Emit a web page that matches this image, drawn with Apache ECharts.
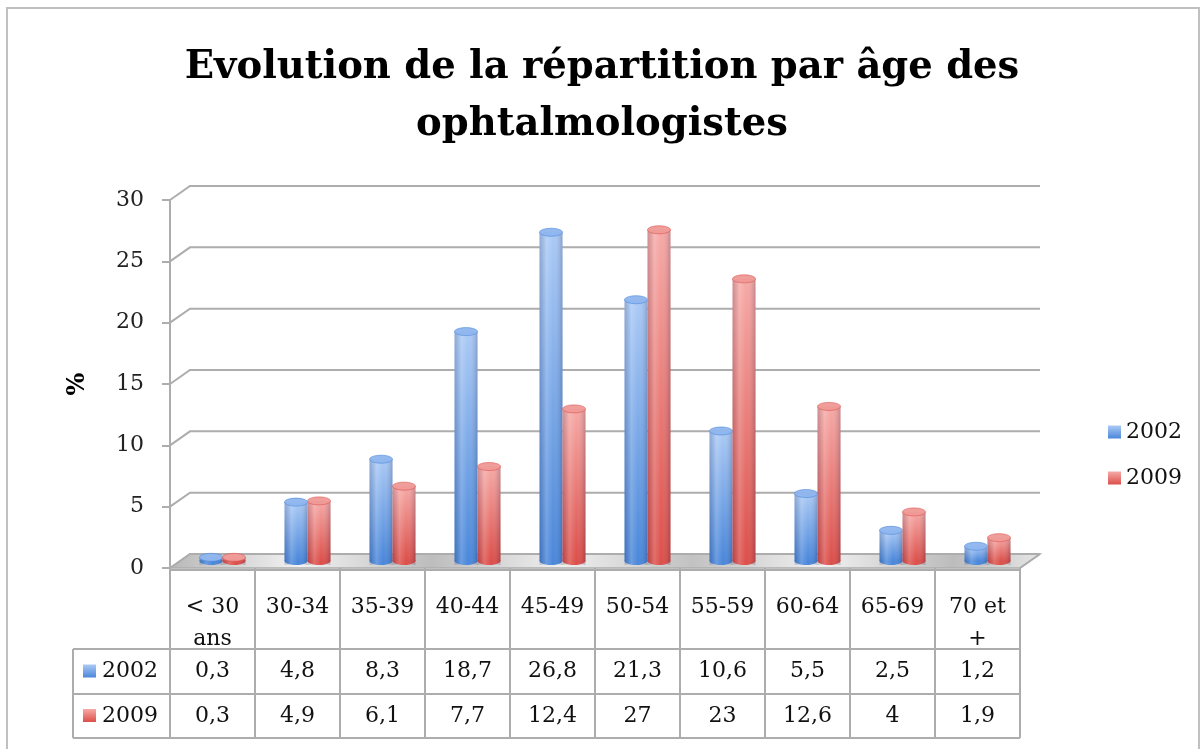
<!DOCTYPE html>
<html>
<head>
<meta charset="utf-8">
<script src="https://cdn.jsdelivr.net/npm/echarts@6/dist/echarts.min.js"></script>
<style>
  html, body { margin: 0; padding: 0; background: #fff; }
  #main { width: 1204px; height: 749px; }
</style>
</head>
<body>
<div id="main"></div>
<script>
// données du graphique
const categories = ['< 30\nans', '30-34', '35-39', '40-44', '45-49', '50-54', '55-59', '60-64', '65-69', '70 et\n+'];
const years = ['2002', '2009'];
const values2002 = [0.3, 4.8, 8.3, 18.7, 26.8, 21.3, 10.6, 5.5, 2.5, 1.2];
const values2009 = [0.3, 4.9, 6.1, 7.7, 12.4, 27, 23, 12.6, 4, 1.9];
const yTicks = [0, 5, 10, 15, 20, 25, 30];

const FONT = 'DejaVu Serif';
const LINE = '#adadad';
// profondeur 3D (décalage du mur du fond)
const DX = 20, DY = -14;
const BAR_W = 23;

// [haut, bas, dessus]
const blueCol = ['#abcaf5', '#4a87da', '#8eb5ee'];
const redCol = ['#f6aaa7', '#dc4f4a', '#ef9996'];

function vGrad(c) {
  return new echarts.graphic.LinearGradient(0, 0, 0, 1, [
    { offset: 0, color: c[0] },
    { offset: 1, color: c[1] }
  ]);
}
function shade() {
  return new echarts.graphic.LinearGradient(0, 0, 1, 0, [
    { offset: 0, color: 'rgba(0,0,40,0.16)' },
    { offset: 0.3, color: 'rgba(255,255,255,0.18)' },
    { offset: 0.6, color: 'rgba(255,255,255,0)' },
    { offset: 1, color: 'rgba(0,0,40,0.2)' }
  ]);
}

// cylindre pour une barre
function cylinder(side, col) {
  return function (params, api) {
    const i = api.value(0);
    const v = api.value(1);
    const pTop = api.coord([i, v]);
    const pBase = api.coord([i, 0]);
    const cx = pTop[0] + DX / 2 + side * BAR_W / 2;
    const yt = pTop[1] + DY / 2;
    const yb = pBase[1] + DY / 2;
    const rx = BAR_W / 2, ry = 4;
    return {
      type: 'group',
      children: [
        { type: 'ellipse', shape: { cx: cx, cy: yb, rx: rx, ry: ry }, style: { fill: col[1] } },
        { type: 'rect', shape: { x: cx - rx, y: yt, width: BAR_W, height: yb - yt }, style: { fill: vGrad(col) } },
        { type: 'rect', shape: { x: cx - rx, y: yt, width: BAR_W, height: yb - yt + ry }, style: { fill: shade() } },
        { type: 'ellipse', shape: { cx: cx, cy: yt, rx: rx, ry: ry }, style: { fill: col[2], stroke: col[1], lineWidth: 0.6, opacity: 0.95 } }
      ]
    };
  };
}

const chart = echarts.init(document.getElementById('main'));

const option = {
  animation: false,
  title: {
    text: 'Evolution de la répartition par âge des\nophtalmologistes',
    left: 'center',
    top: 34,
    padding: [5, 5, 5, 19],
    textStyle: { fontFamily: FONT, fontWeight: 'bold', fontSize: 38.5, lineHeight: 57, color: '#000' }
  },
  legend: {
    data: years,
    orient: 'vertical',
    left: 1103,
    top: 416,
    itemWidth: 13,
    itemHeight: 13,
    itemGap: 24,
    icon: 'rect',
    textStyle: { fontFamily: FONT, fontSize: 22, color: '#111' }
  },
  graphic: [
    { type: 'rect', shape: { x: 7, y: 8, width: 1192, height: 800 }, style: { fill: 'none', stroke: '#c0c0c0', lineWidth: 2 }, silent: true }
  ],
  grid: { left: 170, top: 200, width: 850, height: 368 },
  xAxis: {
    type: 'category',
    data: categories,
    boundaryGap: true,
    axisLine: { show: false },
    axisTick: { show: false },
    axisLabel: { show: false }
  },
  yAxis: {
    type: 'value',
    min: 0,
    max: 30,
    interval: 5,
    name: '%',
    nameLocation: 'middle',
    nameGap: 80,
    nameRotate: 90,
    nameTextStyle: { fontFamily: FONT, fontWeight: 'bold', fontSize: 24, color: '#000' },
    axisLine: { show: true, lineStyle: { color: LINE, width: 2 } },
    axisTick: { show: true, inside: false, length: 8, lineStyle: { color: LINE, width: 2 } },
    axisLabel: { fontFamily: FONT, fontSize: 22, color: '#222', margin: 26, padding: [6, 0, 0, 0] },
    splitLine: { show: false }
  },
  series: [
    {
      // sol
      type: 'custom',
      name: 'sol',
      silent: true,
      clip: false,
      z: 1,
      data: [[0, 0]],
      renderItem: function (params, api) {
        const cs = params.coordSys;
        const y = api.coord([0, 0])[1];
        return {
          type: 'polygon',
          shape: { points: [[cs.x, y], [cs.x + cs.width, y], [cs.x + cs.width + DX, y + DY], [cs.x + DX, y + DY]] },
          style: {
            fill: new echarts.graphic.LinearGradient(0, 0, 1, 0.4, [
              { offset: 0, color: '#b8b8b8' },
              { offset: 0.15, color: '#f2f2f2' },
              { offset: 0.3, color: '#bdbdbd' },
              { offset: 0.45, color: '#efefef' },
              { offset: 0.6, color: '#c2c2c2' },
              { offset: 0.75, color: '#f0f0f0' },
              { offset: 0.9, color: '#bcbcbc' },
              { offset: 1, color: '#e6e6e6' }
            ]),
            stroke: LINE,
            lineWidth: 1.5
          }
        };
      }
    },
    {
      // lignes du quadrillage (mur du fond)
      type: 'custom',
      name: 'quadrillage',
      silent: true,
      clip: false,
      z: 2,
      data: yTicks.map(function (v) { return [0, v]; }),
      renderItem: function (params, api) {
        const cs = params.coordSys;
        const y = api.coord([0, api.value(1)])[1];
        return {
          type: 'polyline',
          shape: { points: [[cs.x, y], [cs.x + DX, y + DY], [cs.x + cs.width + DX, y + DY]] },
          style: { fill: 'none', stroke: LINE, lineWidth: 2 }
        };
      }
    },
    {
      type: 'custom',
      name: '2002',
      clip: false,
      z: 3,
      itemStyle: { color: vGrad(blueCol) },
      data: values2002.map(function (v, i) { return [i, v]; }),
      renderItem: cylinder(-1, blueCol)
    },
    {
      type: 'custom',
      name: '2009',
      clip: false,
      z: 4,
      itemStyle: { color: vGrad(redCol) },
      data: values2009.map(function (v, i) { return [i, v]; }),
      renderItem: cylinder(1, redCol)
    },
    {
      // tableau de données
      type: 'custom',
      name: 'tableau',
      silent: true,
      clip: false,
      z: 5,
      data: categories.map(function (c, i) { return [i, 0]; }),
      renderItem: function (params, api) {
        const i = api.value(0);
        const p = api.coord([i, 0]);
        const w = api.size([1, 0])[0];
        const xl = p[0] - w / 2, xr = p[0] + w / 2;
        const y0 = p[1] + 2, r1 = y0 + 79, r2 = y0 + 124, r3 = y0 + 168;
        const ls = { stroke: LINE, lineWidth: 2 };
        const ts = { fontFamily: FONT, fontSize: 22, fill: '#111', align: 'center', verticalAlign: 'middle' };
        const ch = [
          { type: 'line', shape: { x1: xl, y1: y0, x2: xr, y2: y0 }, style: ls },
          { type: 'line', shape: { x1: xl, y1: r1, x2: xr, y2: r1 }, style: ls },
          { type: 'line', shape: { x1: xl, y1: r2, x2: xr, y2: r2 }, style: ls },
          { type: 'line', shape: { x1: xl, y1: r3, x2: xr, y2: r3 }, style: ls },
          { type: 'line', shape: { x1: xl, y1: y0 - 2, x2: xl, y2: r3 }, style: ls },
          { type: 'text', style: Object.assign({}, ts, { text: categories[i], x: p[0], y: y0 + 21, verticalAlign: 'top', lineHeight: 32 }) },
          { type: 'text', style: Object.assign({}, ts, { text: String(values2002[i]).replace('.', ','), x: p[0], y: (r1 + r2) / 2 }) },
          { type: 'text', style: Object.assign({}, ts, { text: String(values2009[i]).replace('.', ','), x: p[0], y: (r2 + r3) / 2 }) }
        ];
        if (i === categories.length - 1) {
          ch.push({ type: 'line', shape: { x1: xr, y1: y0 - 2, x2: xr, y2: r3 }, style: ls });
          ch.push({ type: 'line', shape: { x1: xr, y1: y0 - 2, x2: xr + DX, y2: y0 - 2 + DY }, style: ls });
        }
        if (i === 0) {
          const xk = xl - 97;
          ch.push(
            { type: 'line', shape: { x1: xk, y1: r1, x2: xl, y2: r1 }, style: ls },
            { type: 'line', shape: { x1: xk, y1: r2, x2: xl, y2: r2 }, style: ls },
            { type: 'line', shape: { x1: xk, y1: r3, x2: xl, y2: r3 }, style: ls },
            { type: 'line', shape: { x1: xk, y1: r1, x2: xk, y2: r3 }, style: ls },
            { type: 'rect', shape: { x: xk + 10, y: (r1 + r2) / 2 - 7, width: 13, height: 13 }, style: { fill: vGrad(blueCol) } },
            { type: 'rect', shape: { x: xk + 10, y: (r2 + r3) / 2 - 7, width: 13, height: 13 }, style: { fill: vGrad(redCol) } },
            { type: 'text', style: Object.assign({}, ts, { text: years[0], x: xk + 29, y: (r1 + r2) / 2, align: 'left' }) },
            { type: 'text', style: Object.assign({}, ts, { text: years[1], x: xk + 29, y: (r2 + r3) / 2, align: 'left' }) }
          );
        }
        return { type: 'group', children: ch };
      }
    }
  ]
};

chart.setOption(option);
</script>
</body>
</html>
